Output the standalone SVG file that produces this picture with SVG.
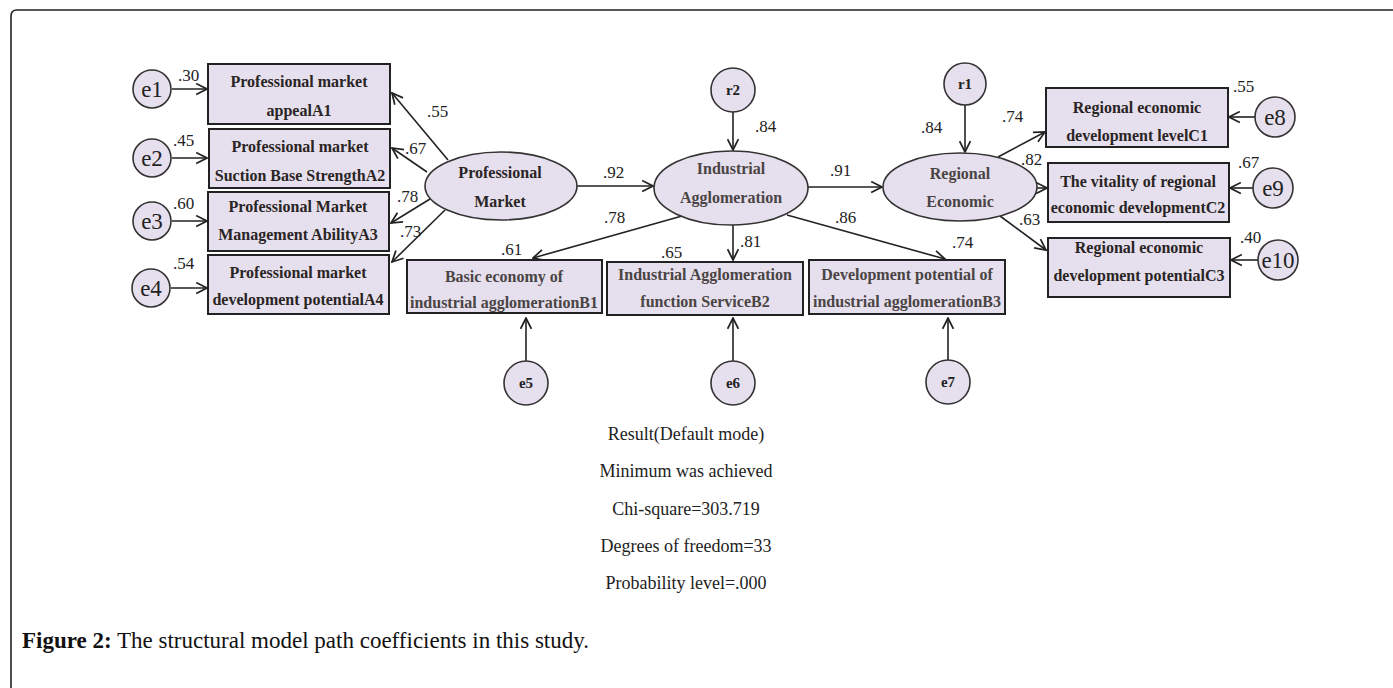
<svg xmlns="http://www.w3.org/2000/svg" width="1393" height="688" viewBox="0 0 1393 688">
<defs>
<marker id="a" viewBox="0 0 12 12" refX="11" refY="6" markerWidth="13" markerHeight="13" markerUnits="userSpaceOnUse" orient="auto">
<path d="M1,1 L11,6 L1,11" fill="none" stroke="#222" stroke-width="1.6"/>
</marker>
</defs>
<style>
.box{fill:#e6e0ee;stroke:#222;stroke-width:2}
.ell{fill:#e6e0ee;stroke:#333;stroke-width:1.6}
.bt{font-family:"Liberation Serif",serif;font-weight:bold;font-size:16px;fill:#2a2424;text-anchor:middle}
.gt{font-family:"Liberation Serif",serif;font-weight:bold;font-size:16px;fill:#4a4444;text-anchor:middle}
.et{font-family:"Liberation Serif",serif;font-size:23px;fill:#222;text-anchor:middle}
.st{font-family:"Liberation Serif",serif;font-weight:bold;font-size:15px;fill:#222;text-anchor:middle}
.num{font-family:"Liberation Serif",serif;font-size:17px;fill:#222}
.res{font-family:"Liberation Serif",serif;font-size:18px;fill:#222;text-anchor:middle}
.cap{font-family:"Liberation Serif",serif;font-size:23px;fill:#111}
.ln{stroke:#222;stroke-width:1.6;fill:none;marker-end:url(#a)}
</style>
<rect width="1393" height="688" fill="#fff"/>
<path d="M11,688 V16 Q11,10 17,10 H1393" fill="none" stroke="#222" stroke-width="1.6"/>

<g id="connectors">
<line class="ln" x1="172" y1="89" x2="207" y2="89"/>
<line class="ln" x1="172" y1="158" x2="207" y2="158"/>
<line class="ln" x1="172" y1="221" x2="207" y2="221"/>
<line class="ln" x1="171" y1="288" x2="207" y2="288"/>
<line class="ln" x1="448" y1="160" x2="392" y2="93"/>
<line class="ln" x1="427" y1="172" x2="392" y2="148"/>
<line class="ln" x1="430" y1="199" x2="391" y2="223"/>
<line class="ln" x1="445" y1="210" x2="392" y2="262"/>
<line class="ln" x1="577" y1="186" x2="653" y2="186"/>
<line class="ln" x1="733" y1="112" x2="733" y2="150"/>
<line class="ln" x1="808" y1="187" x2="882" y2="187"/>
<line class="ln" x1="965" y1="105" x2="965" y2="152"/>
<line class="ln" x1="682" y1="216" x2="533" y2="258"/>
<line class="ln" x1="733" y1="225" x2="733" y2="260"/>
<line class="ln" x1="787" y1="215" x2="945" y2="259"/>
<line class="ln" x1="998" y1="157" x2="1045" y2="132"/>
<line class="ln" x1="1037" y1="188" x2="1047" y2="188"/>
<line class="ln" x1="1000" y1="216" x2="1046" y2="250"/>
<line class="ln" x1="526" y1="361" x2="526" y2="318"/>
<line class="ln" x1="733" y1="361" x2="733" y2="318"/>
<line class="ln" x1="948" y1="360" x2="948" y2="318"/>
<line class="ln" x1="1255" y1="117" x2="1229" y2="117"/>
<line class="ln" x1="1253" y1="188" x2="1230" y2="188"/>
<line class="ln" x1="1258" y1="260" x2="1231" y2="260"/>
</g>

<g id="labels">
<text class="num" x="178" y="81">.30</text>
<text class="num" x="173" y="146">.45</text>
<text class="num" x="173" y="209">.60</text>
<text class="num" x="173" y="269">.54</text>
<text class="num" x="427" y="117">.55</text>
<text class="num" x="405" y="154">.67</text>
<text class="num" x="397" y="202">.78</text>
<text class="num" x="400" y="237">.73</text>
<text class="num" x="603" y="178">.92</text>
<text class="num" x="755" y="132">.84</text>
<text class="num" x="830" y="176">.91</text>
<text class="num" x="921" y="133">.84</text>
<text class="num" x="604" y="223">.78</text>
<text class="num" x="740" y="247">.81</text>
<text class="num" x="835" y="223">.86</text>
<text class="num" x="501" y="255">.61</text>
<text class="num" x="661" y="258">.65</text>
<text class="num" x="952" y="248">.74</text>
<text class="num" x="1002" y="122">.74</text>
<text class="num" x="1021" y="165">.82</text>
<text class="num" x="1019" y="225">.63</text>
<text class="num" x="1233" y="92">.55</text>
<text class="num" x="1238" y="168">.67</text>
<text class="num" x="1240" y="243">.40</text>
</g>

<g id="e1"><circle class="ell" cx="152" cy="89" r="19"/><text class="et" x="152" y="97">e1</text></g>
<g id="e2"><circle class="ell" cx="152" cy="158" r="19"/><text class="et" x="152" y="166">e2</text></g>
<g id="e3"><circle class="ell" cx="152" cy="221" r="19"/><text class="et" x="152" y="229">e3</text></g>
<g id="e4"><circle class="ell" cx="151" cy="288" r="19"/><text class="et" x="151" y="296">e4</text></g>

<g id="A1"><rect class="box" x="208" y="64" width="182" height="60"/><text class="bt" x="299" y="87">Professional market</text><text class="bt" x="299" y="116">appealA1</text></g>
<g id="A2"><rect class="box" x="209" y="129" width="181" height="59"/><text class="bt" x="300" y="152">Professional market</text><text class="bt" x="300" y="181">Suction Base StrengthA2</text></g>
<g id="A3"><rect class="box" x="208" y="192" width="181" height="59"/><text class="bt" x="298" y="212">Professional Market</text><text class="bt" x="298" y="240">Management AbilityA3</text></g>
<g id="A4"><rect class="box" x="208" y="255" width="181" height="59"/><text class="bt" x="298" y="278">Professional market</text><text class="bt" x="298" y="305">development potentialA4</text></g>

<g id="PM"><ellipse class="ell" cx="501" cy="186" rx="76" ry="34"/><text class="bt" x="500" y="178">Professional</text><text class="bt" x="500" y="207">Market</text></g>
<g id="IA"><ellipse class="ell" cx="731" cy="188" rx="77" ry="37"/><text class="gt" x="731" y="174">Industrial</text><text class="gt" x="731" y="203">Agglomeration</text></g>
<g id="RE"><ellipse class="ell" cx="960" cy="187" rx="77" ry="34"/><text class="gt" x="960" y="179">Regional</text><text class="gt" x="960" y="207">Economic</text></g>

<g id="r2"><circle class="ell" cx="733" cy="90" r="22"/><text class="st" x="733" y="95">r2</text></g>
<g id="r1"><circle class="ell" cx="965" cy="84" r="21"/><text class="st" x="965" y="89">r1</text></g>

<g id="B1"><rect class="box" x="407" y="260" width="195" height="53"/><text class="gt" x="504" y="282">Basic economy of</text><text class="gt" x="504" y="308">industrial agglomerationB1</text></g>
<g id="B2"><rect class="box" x="607" y="262" width="196" height="53"/><text class="gt" x="705" y="280">Industrial Agglomeration</text><text class="gt" x="705" y="307">function ServiceB2</text></g>
<g id="B3"><rect class="box" x="809" y="260" width="196" height="54"/><text class="gt" x="907" y="280">Development potential of</text><text class="gt" x="907" y="307">industrial agglomerationB3</text></g>

<g id="e5"><circle class="ell" cx="526" cy="383" r="22"/><text class="st" x="526" y="388">e5</text></g>
<g id="e6"><circle class="ell" cx="733" cy="383" r="22"/><text class="st" x="733" y="388">e6</text></g>
<g id="e7"><circle class="ell" cx="948" cy="382" r="22"/><text class="st" x="948" y="387">e7</text></g>

<g id="C1"><rect class="box" x="1046" y="88" width="182" height="59"/><text class="bt" x="1137" y="113">Regional economic</text><text class="bt" x="1137" y="141">development levelC1</text></g>
<g id="C2"><rect class="box" x="1048" y="163" width="181" height="59"/><text class="bt" x="1138" y="187">The vitality of regional</text><text class="bt" x="1138" y="213">economic developmentC2</text></g>
<g id="C3"><rect class="box" x="1048" y="238" width="182" height="59"/><text class="bt" x="1139" y="253">Regional economic</text><text class="bt" x="1139" y="281">development potentialC3</text></g>

<g id="e8"><circle class="ell" cx="1275" cy="117" r="20"/><text class="et" x="1275" y="125">e8</text></g>
<g id="e9"><circle class="ell" cx="1273" cy="188" r="20"/><text class="et" x="1273" y="196">e9</text></g>
<g id="e10"><circle class="ell" cx="1278" cy="260" r="20"/><text class="et" x="1278" y="268">e10</text></g>

<g id="result">
<text class="res" x="686" y="440">Result(Default mode)</text>
<text class="res" x="686" y="477">Minimum was achieved</text>
<text class="res" x="686" y="515">Chi-square=303.719</text>
<text class="res" x="686" y="552">Degrees of freedom=33</text>
<text class="res" x="686" y="589">Probability level=.000</text>
</g>

<text class="cap" x="22" y="648"><tspan font-weight="bold">Figure 2:</tspan> The structural model path coefficients in this study.</text>
</svg>
